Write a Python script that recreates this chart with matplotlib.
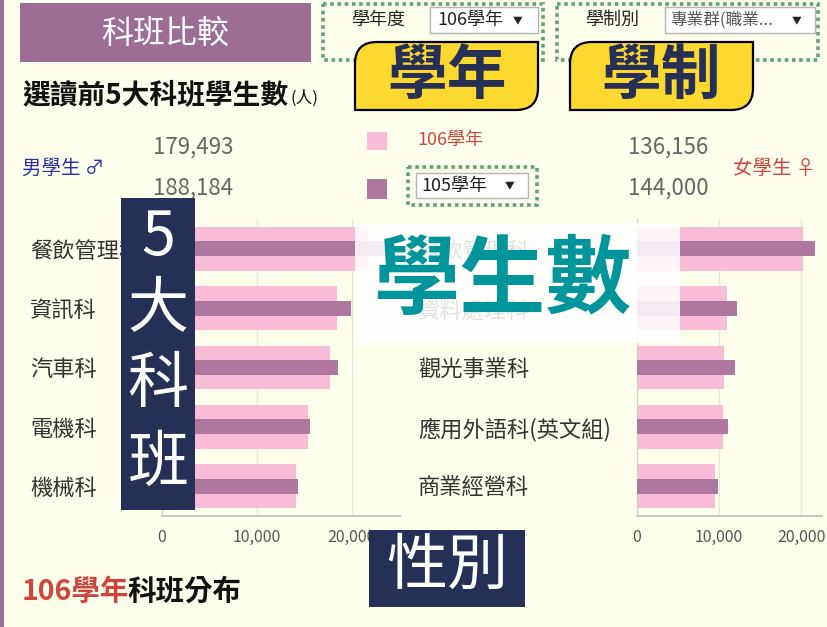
import numpy as np
import matplotlib
matplotlib.use("Agg")
import matplotlib.pyplot as plt
from matplotlib.patches import Rectangle, PathPatch
from matplotlib.path import Path

plt.rcParams['font.family'] = ['Noto Sans CJK TC', 'DejaVu Sans']

# data
male_cats = ['餐飲管理科', '資訊科', '汽車科', '電機科', '機械科']
male_106 = [21700, 18400, 17700, 15400, 14100]
male_105 = [23700, 19900, 18550, 15600, 14350]

female_cats = ['餐飲管理科', '資料處理科', '觀光事業科', '應用外語科(英文組)', '商業經營科']
female_106 = [20200, 11000, 10600, 10500, 9500]
female_105 = [21700, 12200, 11950, 11100, 9900]

male_totals = ['179,493', '188,184']
female_totals = ['136,156', '144,000']
xticks = [0, 10000, 20000]
xtick_labels = ['0', '10,000', '20,000']

W, H = 827, 627
BG = '#FEFEEC'
PINK = '#F9BCD7'
PURPLE = '#AD779E'
TITLE = '#9E6D96'
NAVY = '#262F55'
GREEN = '#5FA274'
YELLOW = '#FDD82E'
TEAL = '#00959A'
RED = '#D0453B'

fig = plt.figure(figsize=(W / 100, H / 100), dpi=100, facecolor=BG)


def px_axes(z):
    a = fig.add_axes([0, 0, 1, 1], zorder=z)
    a.set_xlim(0, W)
    a.set_ylim(H, 0)
    a.axis('off')
    a.patch.set_visible(False)
    return a


bg = px_axes(0)
fg = px_axes(5)


def box(ax, x0, y0, x1, y1, **kw):
    ax.add_patch(Rectangle((x0, y0), x1 - x0, y1 - y0, **kw))


def dotted(ax, x0, y0, x1, y1):
    box(ax, x0, y0, x1, y1, fill=False, edgecolor=GREEN, lw=2.6,
        linestyle=(0, (1.0, 1.0)))


def leaf(ax, x0, y0, x1, y1, r, **kw):
    verts = [(x0, y0 + r), (x0, y0), (x0 + r, y0), (x1, y0), (x1, y1 - r),
             (x1, y1), (x1 - r, y1), (x0, y1), (x0, y0 + r)]
    codes = [Path.MOVETO, Path.CURVE3, Path.CURVE3, Path.LINETO, Path.LINETO,
             Path.CURVE3, Path.CURVE3, Path.LINETO, Path.CLOSEPOLY]
    ax.add_patch(PathPatch(Path(verts, codes), **kw))


def dropdown(ax, x0, y0, x1, y1, label, tx, ax_arrow, color='#222', size=13):
    box(ax, x0, y0, x1, y1, facecolor='white', edgecolor='#B5B5B5', lw=1)
    ym = (y0 + y1) / 2
    ax.text(tx, ym, label, ha='left', va='center', fontsize=size, color=color)
    ax.text(ax_arrow, ym, '▼', ha='center', va='center', fontsize=7, color='#222')


# left strip, title
box(bg, 0, 0, 4, H, facecolor=TITLE, edgecolor='none')
box(bg, 20, 3, 311, 62, facecolor=TITLE, edgecolor='none')
bg.text(165, 34, '科班比較', ha='center', va='center', fontsize=23, color='white')
bg.text(22, 95, '選讀前5大科班學生數', ha='left', va='center', fontsize=20,
        fontweight='bold', color='#111')
bg.text(290, 98, '(人)', ha='left', va='center', fontsize=12, color='#111')

# filters
dotted(bg, 323, 4, 543, 60)
bg.text(378, 20, '學年度', ha='center', va='center', fontsize=13, color='#222')
dropdown(bg, 430, 7, 538, 33, '106學年', 437, 518)
dotted(bg, 557, 4, 818, 60)
bg.text(612, 20, '學制別', ha='center', va='center', fontsize=13, color='#222')
dropdown(bg, 665, 7, 815, 33, '專業群(職業...', 670, 797, color='#555', size=12)

# legend
box(bg, 367, 132, 387, 150, facecolor=PINK, edgecolor='none')
box(bg, 367, 179, 387, 199, facecolor=PURPLE, edgecolor='none')
bg.text(417, 140, '106學年', ha='left', va='center', fontsize=13, color=RED)
dotted(bg, 408, 167, 537, 205)
dropdown(bg, 416, 173, 528, 198, '105學年', 421, 510)

# totals
bg.text(22, 168, '男學生 ♂', ha='left', va='center', fontsize=14, color='#2B2FB0')
bg.text(733, 168, '女學生 ♀', ha='left', va='center', fontsize=14, color=RED)
for i, yy in enumerate([147, 188]):
    bg.text(153, yy, male_totals[i], ha='left', va='center', fontsize=16, color='#666')
    bg.text(628, yy, female_totals[i], ha='left', va='center', fontsize=16, color='#666')

# bottom title
bg.text(22, 592, '106學年', ha='left', va='center', fontsize=20.5, fontweight='bold', color=RED)
bg.text(127, 592, '科班分布', ha='left', va='center', fontsize=20.5, fontweight='bold', color='#111')


def panel(x0, width, xmax, cats, v106, v105, label_x):
    ax = fig.add_axes([x0 / W, 1 - 516 / H, width / W, 297 / H], zorder=2)
    ax.set_facecolor('none')
    y = np.arange(len(cats))
    ax.barh(y, v106, height=0.74, color=PINK, zorder=2)
    ax.barh(y, v105, height=0.25, color=PURPLE, zorder=3)
    ax.set_xlim(0, xmax)
    ax.set_ylim(len(cats) - 0.5, -0.5)
    ax.set_xticks(xticks)
    ax.set_xticklabels(xtick_labels)
    ax.set_yticks(y)
    ax.set_yticklabels(cats, ha='left')
    ax.tick_params(axis='x', length=0, pad=9, labelsize=11.5, labelcolor='#555')
    ax.tick_params(axis='y', length=0, pad=(x0 - label_x) * 0.72,
                   labelsize=16, labelcolor='#333')
    for s in ['top', 'right']:
        ax.spines[s].set_visible(False)
    ax.spines['bottom'].set_color('#C8C8C8')
    ax.spines['bottom'].set_linewidth(1.5)
    ax.spines['left'].set_color('#D0D0D0')
    ax.grid(axis='x', color='#E6E6DA', lw=1, zorder=0)
    ax.set_axisbelow(True)
    return ax


panel(162, 237.5, 25000, male_cats, male_106, male_105, 30)
panel(637, 184.5, 22500, female_cats, female_106, female_105, 418)

# overlays
leaf(fg, 355, 42, 538, 110, 22, facecolor=YELLOW, edgecolor='black', lw=1.6)
fg.text(447, 77, '學年', ha='center', va='center', fontsize=43, fontweight='bold', color=NAVY)
leaf(fg, 570, 42, 753, 110, 22, facecolor=YELLOW, edgecolor='black', lw=1.6)
fg.text(661, 77, '學制', ha='center', va='center', fontsize=43, fontweight='bold', color=NAVY)

box(fg, 355, 223, 680, 343, facecolor='white', edgecolor='none', alpha=0.86)
fg.text(502, 282, '學生數', ha='center', va='center', fontsize=62, fontweight='bold', color=TEAL)

box(fg, 121, 198, 195, 510, facecolor=NAVY, edgecolor='none')
for ch, yy in zip('5大科班', [238, 310, 385, 463]):
    fg.text(158, yy, ch, ha='center', va='center', fontsize=44, color='white')

box(fg, 369, 530, 525, 607, facecolor=NAVY, edgecolor='none')
fg.text(447, 567, '性別', ha='center', va='center', fontsize=44, color='white')

fig.savefig('out.png', dpi=100, facecolor=BG)
